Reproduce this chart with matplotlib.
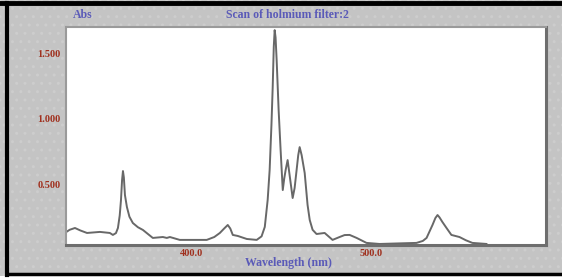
import matplotlib
matplotlib.use("Agg")
import matplotlib.pyplot as plt
from matplotlib.patches import Rectangle
import numpy as np

# Holmium filter scan
wavelength = [329.4, 332.0, 335.0, 338.0, 341.7, 348.9, 354.4, 356.1, 357.8, 358.9,
              359.9, 360.6, 361.2, 361.7, 362.2, 362.8, 363.9, 365.3, 367.2, 370.0,
              372.8, 378.3, 383.9, 386.1, 387.8, 393.3, 408.3, 412.5, 415.6, 418.0,
              420.0, 421.4, 422.8, 425.6, 430.6, 436.1, 438.8, 440.6, 442.2, 443.3,
              444.3, 445.0, 445.6, 446.1, 446.6, 447.2, 448.3, 449.4, 450.6, 451.4,
              452.2, 453.3, 454.4, 456.1, 457.2, 458.3, 459.2, 460.0, 461.1, 462.8,
              464.4, 465.6, 467.2, 469.4, 473.9, 478.3, 482.2, 485.0, 487.8, 491.7,
              497.2, 504.4, 525.0, 528.5, 530.6, 533.9, 535.5, 536.7, 537.8, 539.4,
              541.7, 544.4, 548.9, 552.5, 556.1, 563.9]
absorbance = [0.126, 0.150, 0.164, 0.145, 0.126, 0.134, 0.126, 0.111, 0.125, 0.164,
              0.260, 0.378, 0.530, 0.599, 0.550, 0.416, 0.324, 0.250, 0.202, 0.170,
              0.149, 0.088, 0.095, 0.088, 0.095, 0.073, 0.073, 0.095, 0.126, 0.160,
              0.187, 0.160, 0.111, 0.103, 0.080, 0.073, 0.100, 0.172, 0.378, 0.607,
              0.950, 1.240, 1.550, 1.676, 1.620, 1.447, 1.065, 0.760, 0.454, 0.540,
              0.607, 0.683, 0.569, 0.393, 0.470, 0.607, 0.720, 0.782, 0.721, 0.584,
              0.340, 0.225, 0.150, 0.118, 0.126, 0.073, 0.095, 0.110, 0.111, 0.088,
              0.050, 0.042, 0.050, 0.065, 0.088, 0.187, 0.240, 0.263, 0.245, 0.210,
              0.164, 0.111, 0.095, 0.070, 0.050, 0.042]
x_ticks = [400.0, 500.0]
x_tick_labels = ["400.0", "500.0"]
y_ticks = [0.5, 1.0, 1.5]
y_tick_labels = ["0.500", "1.000", "1.500"]

bg = "#c4c4c4"
red = "#a0301e"
blue = "#5a5ab8"
serif = ["Liberation Serif", "DejaVu Serif"]

fig = plt.figure(figsize=(5.62, 2.8), dpi=100)
fig.patch.set_facecolor(bg)

# dotted grey panel and black border
panel = Rectangle((0, 0), 1, 1, transform=fig.transFigure, facecolor=bg,
                  edgecolor="#cdcdcd", hatch="..", lw=0, zorder=-2)
fig.patches.append(panel)
fig.add_artist(plt.Line2D([0, 1], [0.991, 0.991], color="black", lw=3.5,
                          transform=fig.transFigure))
fig.add_artist(plt.Line2D([0.012, 0.012], [0.017, 0.991], color="black", lw=3,
                          transform=fig.transFigure))
fig.add_artist(plt.Line2D([0.012, 1], [0.021, 0.021], color="black", lw=2.5,
                          transform=fig.transFigure))
fig.add_artist(Rectangle((0, 0), 1, 0.013, transform=fig.transFigure,
                         facecolor="white", lw=0))

ax = fig.add_axes([0.1174, 0.125, 0.854, 0.7786])
ax.set_facecolor("white")
ax.plot(wavelength, absorbance, color="#686868", lw=1.4, solid_joinstyle="round")

ax.set_xlim(330, 597)
ax.set_ylim(0.034, 1.70)
ax.set_xticks(x_ticks)
ax.set_xticklabels(x_tick_labels)
ax.set_yticks(y_ticks)
ax.set_yticklabels(y_tick_labels)
ax.tick_params(length=0, colors=red, labelsize=7.5, pad=4)
for lab in ax.get_xticklabels() + ax.get_yticklabels():
    lab.set_family(serif)
    lab.set_fontweight("bold")
    lab.set_color(red)
ax.tick_params(axis="x", pad=3)

for side in ["left", "top"]:
    ax.spines[side].set_color("#9a9a9a")
    ax.spines[side].set_linewidth(1.5)
for side in ["right", "bottom"]:
    ax.spines[side].set_color("#6e6e6e")
    ax.spines[side].set_linewidth(2.2)

fig.text(83 / 562, 1 - 15 / 280, "Abs", ha="center", va="center", color=blue,
         fontsize=8.5, fontweight="bold", family=serif)
fig.text(287 / 562, 1 - 15 / 280, "Scan of holmium filter:2", ha="center", va="center",
         color=blue, fontsize=8.5, fontweight="bold", family=serif)
fig.text(288 / 562, 1 - 263 / 280, "Wavelength (nm)", ha="center", va="center",
         color=blue, fontsize=8.5, fontweight="bold", family=serif)

fig.savefig("out.png", dpi=100, facecolor=bg)
